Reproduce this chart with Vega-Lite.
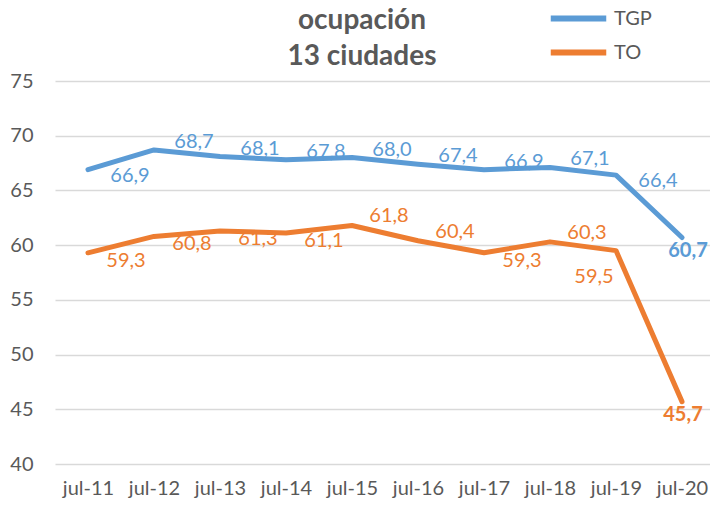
{
  "$schema": "https://vega.github.io/schema/vega-lite/v6.json",
  "width": 660,
  "height": 383,
  "autosize": {"type": "none"},
  "padding": {"left": 55, "top": 81, "right": 0, "bottom": 43},
  "background": "white",
  "config": {
    "locale": {"number": {"decimal": ",", "thousands": ".", "grouping": [3], "currency": ["", " €"]}},
    "view": {"stroke": null},
    "font": "Lato"
  },
  "title": {
    "text": ["ocupación", "13 ciudades"],
    "fontSize": 28,
    "fontWeight": "bold",
    "font": "Lato",
    "color": "#595959",
    "lineHeight": 36,
    "anchor": "middle",
    "dx": -23,
    "dy": 86,
    "offset": 12
  },
  "data": {
    "values": [
      {"periodo": "jul-11", "serie": "TGP", "valor": 66.9},
      {"periodo": "jul-12", "serie": "TGP", "valor": 68.7},
      {"periodo": "jul-13", "serie": "TGP", "valor": 68.1},
      {"periodo": "jul-14", "serie": "TGP", "valor": 67.8},
      {"periodo": "jul-15", "serie": "TGP", "valor": 68.0},
      {"periodo": "jul-16", "serie": "TGP", "valor": 67.4},
      {"periodo": "jul-17", "serie": "TGP", "valor": 66.9},
      {"periodo": "jul-18", "serie": "TGP", "valor": 67.1},
      {"periodo": "jul-19", "serie": "TGP", "valor": 66.4},
      {"periodo": "jul-20", "serie": "TGP", "valor": 60.7},
      {"periodo": "jul-11", "serie": "TO", "valor": 59.3},
      {"periodo": "jul-12", "serie": "TO", "valor": 60.8},
      {"periodo": "jul-13", "serie": "TO", "valor": 61.3},
      {"periodo": "jul-14", "serie": "TO", "valor": 61.1},
      {"periodo": "jul-15", "serie": "TO", "valor": 61.8},
      {"periodo": "jul-16", "serie": "TO", "valor": 60.4},
      {"periodo": "jul-17", "serie": "TO", "valor": 59.3},
      {"periodo": "jul-18", "serie": "TO", "valor": 60.3},
      {"periodo": "jul-19", "serie": "TO", "valor": 59.5},
      {"periodo": "jul-20", "serie": "TO", "valor": 45.7}
    ]
  },
  "encoding": {
    "x": {
      "field": "periodo",
      "type": "ordinal",
      "sort": null,
      "scale": {"type": "point", "padding": 0.5},
      "axis": {
        "title": null,
        "labelAngle": 0,
        "labelFontSize": 20,
        "labelColor": "#595959",
        "labelFont": "Lato",
        "labelPadding": 14,
        "ticks": false,
        "domain": false,
        "grid": false
      }
    },
    "y": {
      "field": "valor",
      "type": "quantitative",
      "scale": {"domain": [40, 75], "nice": false, "zero": false},
      "axis": {
        "title": null,
        "values": [40, 45, 50, 55, 60, 65, 70, 75],
        "labelFontSize": 20,
        "labelColor": "#595959",
        "labelFont": "Lato",
        "labelPadding": 22,
        "ticks": false,
        "domain": false,
        "grid": true,
        "gridColor": "#D9D9D9",
        "gridWidth": 1.5
      }
    },
    "color": {
      "field": "serie",
      "type": "nominal",
      "scale": {"domain": ["TGP", "TO"], "range": ["#5B9BD5", "#ED7D31"]},
      "legend": {
        "title": null,
        "orient": "none",
        "legendX": 502,
        "legendY": -84,
        "padding": 0,
        "symbolType": "M-1.5,0L1.5,0",
        "symbolSize": 1369,
        "symbolStrokeWidth": 6,
        "labelFontSize": 20,
        "labelColor": "#595959",
        "labelFont": "Lato",
        "labelOffset": 14,
        "rowPadding": 0
      }
    }
  },
  "layer": [
    {
      "mark": {"type": "line", "strokeWidth": 5, "strokeCap": "round", "strokeJoin": "round"}
    },
    {
      "transform": [{"filter": "datum.serie === 'TGP' && indexof(['jul-11', 'jul-19', 'jul-20'], datum.periodo) < 0"}],
      "mark": {"type": "text", "fontSize": 20, "font": "Lato", "dx": 40, "dy": -8, "baseline": "middle", "align": "center"},
      "encoding": {"text": {"field": "valor", "type": "quantitative", "format": ".1f"}}
    },
    {
      "transform": [{"filter": "datum.serie === 'TGP' && indexof(['jul-11', 'jul-19'], datum.periodo) >= 0"}],
      "mark": {"type": "text", "fontSize": 20, "font": "Lato", "dx": 42, "dy": 6, "baseline": "middle", "align": "center"},
      "encoding": {"text": {"field": "valor", "type": "quantitative", "format": ".1f"}}
    },
    {
      "transform": [{"filter": "datum.serie === 'TO' && indexof(['jul-15', 'jul-16', 'jul-18'], datum.periodo) >= 0"}],
      "mark": {"type": "text", "fontSize": 20, "font": "Lato", "dx": 37, "dy": -9, "baseline": "middle", "align": "center"},
      "encoding": {"text": {"field": "valor", "type": "quantitative", "format": ".1f"}}
    },
    {
      "transform": [{"filter": "datum.serie === 'TO' && indexof(['jul-11', 'jul-12', 'jul-13', 'jul-14', 'jul-17'], datum.periodo) >= 0"}],
      "mark": {"type": "text", "fontSize": 20, "font": "Lato", "dx": 38, "dy": 8, "baseline": "middle", "align": "center"},
      "encoding": {"text": {"field": "valor", "type": "quantitative", "format": ".1f"}}
    },
    {
      "transform": [{"filter": "datum.serie === 'TO' && datum.periodo === 'jul-19'"}],
      "mark": {"type": "text", "fontSize": 20, "font": "Lato", "dx": -22, "dy": 26, "baseline": "middle", "align": "center"},
      "encoding": {"text": {"field": "valor", "type": "quantitative", "format": ".1f"}}
    },
    {
      "transform": [{"filter": "datum.serie === 'TGP' && datum.periodo === 'jul-20'"}],
      "mark": {"type": "text", "fontSize": 20, "font": "Lato", "fontWeight": "bold", "dx": 6, "dy": 14, "baseline": "middle", "align": "center"},
      "encoding": {"text": {"field": "valor", "type": "quantitative", "format": ".1f"}}
    },
    {
      "transform": [{"filter": "datum.serie === 'TO' && datum.periodo === 'jul-20'"}],
      "mark": {"type": "text", "fontSize": 20, "font": "Lato", "fontWeight": "bold", "dx": 1, "dy": 13, "baseline": "middle", "align": "center"},
      "encoding": {"text": {"field": "valor", "type": "quantitative", "format": ".1f"}}
    }
  ]
}
